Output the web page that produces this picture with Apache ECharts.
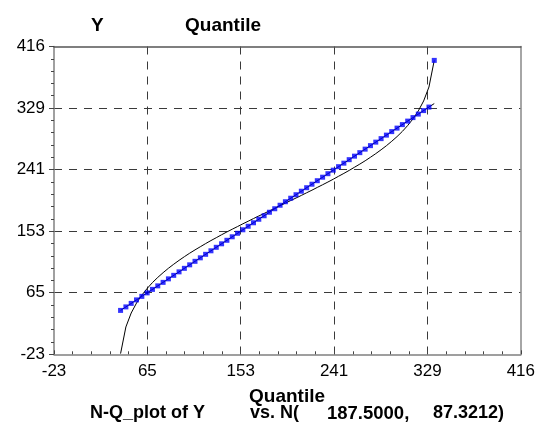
<!DOCTYPE html>
<html>
<head>
<meta charset="utf-8">
<script src="https://cdn.jsdelivr.net/npm/echarts@6/dist/echarts.min.js"></script>
<style>html,body{margin:0;padding:0;background:#fff;}#c{width:538px;height:423px;}</style>
</head>
<body>
<div id="c"></div>
<script>
// Sorted sample Y values
const sampleY = [40,45,50,55,60,65,70,75,80,85,90,95,100,105,110,115,120,125,130,135,
  140,145,150,155,160,165,170,175,180,185,190,195,200,205,210,215,220,225,230,235,
  240,245,250,255,260,265,270,275,280,285,290,295,300,305,310,315,320,325,330,335];
// Normal quantiles N(187.5, 87.3212) plotted against the sample (black curve)
const normalQ = [-21.6,16.4,36.3,50.5,61.8,71.3,79.7,87.1,93.8,100.1,105.9,111.4,116.6,121.6,126.3,
  130.8,135.3,139.6,143.7,147.9,151.9,155.8,159.6,163.5,167.2,171.0,174.7,178.3,182.0,185.7,
  189.3,193.0,196.7,200.3,204.0,207.8,211.5,215.4,219.2,223.1,227.1,231.3,235.4,239.7,244.2,
  248.7,253.4,258.4,263.6,269.1,274.9,281.2,287.9,295.3,303.7,313.2,324.5,338.7,358.6,396.6];
// Blue square markers
const markerX = [40,45,50,55,60,65,70,75,80,85,90,95,100,105,110,115,120,125,130,135,
  140,145,150,155,160,165,170,175,180,185,190,195,200,205,210,215,220,225,230,235,
  240,245,250,255,260,265,270,275,280,285,290,295,300,305,310,315,320,325,330,335];
const markerY = [40,45,50,55,60,65,70,75,80,85,90,95,100,105,110,115,120,125,130,135,
  140,145,150,155,160,165,170,175,180,185,190,195,200,205,210,215,220,225,230,235,
  240,245,250,255,260,265,270,275,280,285,290,295,300,305,310,315,320,325,330,396.6];
// Reference line ends
const refLine = [[40,40],[335,335]];
// Axis tick labels
const tickLabels = ['-23','65','153','241','329','416'];
const AXIS_MIN = -22.6, AXIS_MAX = 416.4, AXIS_STEP = 87.8;

const OFF = -AXIS_MIN;
const sh = v => v + OFF;
const FONT = '"Liberation Sans", Arial, sans-serif';

function mainAxis(pos, tickInside, tickLen) {
  return {
    type: 'value', position: pos, min: 0, max: AXIS_MAX - AXIS_MIN, interval: AXIS_STEP,
    axisLine: { show: true, onZero: false, lineStyle: { color: '#808080', width: 1.5 } },
    axisTick: { show: true, inside: tickInside, length: tickLen, lineStyle: { color: '#444', width: 1 } },
    minorTick: { show: true, splitNumber: 5, length: 3, lineStyle: { color: '#444', width: 1 } },
    splitLine: { show: true, showMinLine: false, showMaxLine: false,
      lineStyle: { color: '#3a3a3a', width: 1, type: [8, 7] } },
    axisLabel: { show: true, color: '#000', fontFamily: FONT, fontSize: 17, margin: 9,
      formatter: (v, i) => tickLabels[i] !== undefined ? tickLabels[i] : '' }
  };
}
function frameAxis(pos, color) {
  return {
    type: 'value', position: pos, min: 0, max: AXIS_MAX - AXIS_MIN, interval: AXIS_STEP,
    axisLine: { show: true, onZero: false, lineStyle: { color: color, width: 1.5 } },
    axisTick: { show: false }, axisLabel: { show: false }, splitLine: { show: false }
  };
}

const chart = echarts.init(document.getElementById('c'), null, { renderer: 'canvas' });
chart.setOption({
  animation: false,
  backgroundColor: '#fff',
  grid: { left: 54, right: 16, top: 46.5, bottom: 68.7, containLabel: false },
  xAxis: [ mainAxis('bottom', true, 4), frameAxis('top', '#555') ],
  yAxis: [ mainAxis('left', false, 5), frameAxis('right', '#888') ],
  graphic: [
    { type: 'text', left: 91, top: 16, style: { text: 'Y', font: 'bold 19px ' + FONT, fill: '#000' } },
    { type: 'text', left: 185, top: 16, style: { text: 'Quantile', font: 'bold 19px ' + FONT, fill: '#000' } },
    { type: 'text', left: 249, top: 387, style: { text: 'Quantile', font: 'bold 19px ' + FONT, fill: '#000' } },
    { type: 'text', left: 90, top: 404, style: { text: 'N-Q_plot of Y', font: 'bold 18px ' + FONT, fill: '#000' } },
    { type: 'text', left: 250, top: 404, style: { text: 'vs. N(', font: 'bold 18px ' + FONT, fill: '#000' } },
    { type: 'text', left: 327, top: 404, style: { text: '187.5000,', font: 'bold 18.5px ' + FONT, fill: '#000' } },
    { type: 'text', left: 433, top: 404, style: { text: '87.3212)', font: 'bold 18px ' + FONT, fill: '#000' } }
  ],
  series: [
    { type: 'line', name: 'ref', data: refLine.map(p => [sh(p[0]), sh(p[1])]), symbol: 'none',
      lineStyle: { color: '#000', width: 1 }, z: 3 },
    { type: 'line', name: 'normal', data: sampleY.map((v, i) => [sh(v), sh(normalQ[i])]), symbol: 'none',
      lineStyle: { color: '#000', width: 1 }, z: 3, clip: true },
    { type: 'scatter', name: 'Y', data: markerX.map((v, i) => [sh(v), sh(markerY[i])]), symbol: 'rect',
      symbolSize: 5, itemStyle: { color: '#0000ff' }, z: 4 }
  ]
});
</script>
</body>
</html>
